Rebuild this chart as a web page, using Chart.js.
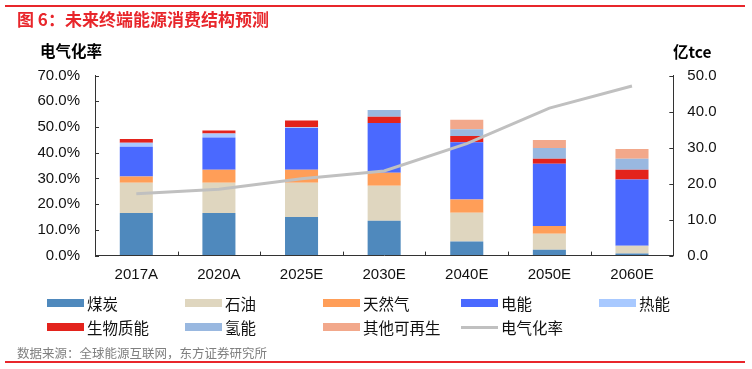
<!DOCTYPE html>
<html>
<head>
<meta charset="utf-8">
<script src="https://cdn.jsdelivr.net/npm/chart.js@4/dist/chart.umd.min.js"></script>
<style>
  html,body{margin:0;padding:0;background:#fff;}
  #wrap{position:relative;width:752px;height:369px;overflow:hidden;font-family:"Noto Sans CJK SC","Liberation Sans",sans-serif;}
  canvas{position:absolute;left:0;top:0;}
  .abs{position:absolute;white-space:nowrap;}
  #title{left:17px;top:8px;font-size:17px;font-weight:bold;color:#e8262b;line-height:22px;}
  .redline{position:absolute;height:1.5px;background:#e8262b;}
  .axt{font-weight:bold;font-size:15.5px;color:#000;line-height:20px;}
  #src{left:17px;top:344px;font-size:12.5px;color:#7f7f7f;line-height:18px;}
  .lg{position:absolute;height:20px;width:135px;line-height:20px;font-size:15.5px;color:#111;white-space:nowrap;}
  .lg .sw{position:absolute;left:0;width:37px;}
  .lg span{position:absolute;left:40px;top:0;white-space:nowrap;}
</style>
</head>
<body>
<div id="wrap">
  <canvas id="c" width="752" height="369"></canvas>
  <div class="redline" style="left:5px;top:5px;width:740px;"></div>
  <div id="title" class="abs">图 6：未来终端能源消费结构预测</div>
  <div class="abs axt" style="left:40px;top:40px;">电气化率</div>
  <div class="abs axt" style="left:673px;top:41px;">亿tce</div>
  <div id="legend"></div>
  <div id="src" class="abs">数据来源：全球能源互联网，东方证券研究所</div>
  <div class="redline" style="left:5px;top:361px;width:740px;"></div>
</div>
<script>
// ---- data ----
const categories = ['2017A','2020A','2025E','2030E','2040E','2050E','2060E'];
const coal     = [11.8, 11.8, 10.7, 9.7, 3.9, 1.6, 0.55];
const oil      = [8.4, 8.4, 9.5, 9.7, 8.0, 4.5, 2.2];
const gas      = [1.75, 3.6, 3.6, 3.6, 3.7, 2.1, 0];
const power    = [8.25, 9.0, 11.6, 13.8, 15.9, 17.3, 18.4];
const heat     = [1.1, 1.1, 0.2, 0, 0, 0, 0];
const biomass  = [1.1, 0.8, 1.9, 1.75, 1.7, 1.4, 2.7];
const hydrogen = [0, 0, 0, 1.85, 1.9, 3.0, 3.05];
const otherRen = [0, 0, 0, 0, 2.6, 2.2, 2.7];
const elecRate = [24.0, 25.8, 29.9, 32.9, 43.5, 57.3, 65.9];
const leftTicks  = [0,10,20,30,40,50,60,70];
const rightTicks = [0,10,20,30,40,50];
const seriesNames = ['煤炭','石油','天然气','电能','热能','生物质能','氢能','其他可再生','电气化率'];

const colors = ['#4f89bd','#dfd6bf','#ff9e58','#4a69ff','#a8c9ff','#e3231c','#99b8e0','#f2a88b','#c0c0c0'];
const barSeries = [coal, oil, gas, power, heat, biomass, hydrogen, otherRen];
const AXIS = '#333';
const TICKFONT = {family:'"Liberation Sans", Arial, sans-serif', size:15};

const datasets = barSeries.map((d,i)=>({
  type:'bar', label:seriesNames[i], data:d, backgroundColor:colors[i],
  borderWidth:0, yAxisID:'y1', stack:'s', order:1,
  barPercentage:0.5, categoryPercentage:0.8
}));
datasets.push({
  type:'line', label:seriesNames[8], data:elecRate, borderColor:colors[8],
  backgroundColor:colors[8], borderWidth:3, pointRadius:0, yAxisID:'y',
  tension:0, order:0, fill:false
});

const innerTicks = {
  id:'innerTicks',
  afterDraw(chart){
    const {ctx, chartArea:a, scales} = chart;
    ctx.save(); ctx.strokeStyle=AXIS; ctx.lineWidth=1; ctx.beginPath();
    scales.y.ticks.forEach((t,i)=>{const y=Math.round(scales.y.getPixelForTick(i))+0.5; ctx.moveTo(a.left,y); ctx.lineTo(a.left+4,y);});
    scales.y1.ticks.forEach((t,i)=>{const y=Math.round(scales.y1.getPixelForTick(i))+0.5; ctx.moveTo(a.right,y); ctx.lineTo(a.right-4,y);});
    for(let i=1;i<categories.length;i++){
      const x=Math.round((scales.x.getPixelForTick(i-1)+scales.x.getPixelForTick(i))/2)+0.5;
      ctx.moveTo(x,a.bottom); ctx.lineTo(x,a.bottom-4);
    }
    ctx.stroke(); ctx.restore();
  }
};

new Chart(document.getElementById('c'), {
  data:{labels:categories, datasets},
  plugins:[innerTicks],
  options:{
    responsive:false, animation:false, devicePixelRatio:1,
    layout:{padding:{top:75.5,left:0,right:0,bottom:0}},
    plugins:{legend:{display:false}, tooltip:{enabled:false}},
    scales:{
      x:{stacked:true, offset:true,
         grid:{display:true, drawOnChartArea:false, drawTicks:false},
         border:{display:true,color:AXIS,width:1},
         ticks:{font:TICKFONT,color:'#111',padding:10,maxRotation:0},
         afterFit(s){ s.height = 369-255.6; }},
      y:{position:'left', min:0, max:70,
         afterBuildTicks(s){ s.ticks = leftTicks.map(v=>({value:v})); },
         grid:{display:true, drawOnChartArea:false, drawTicks:false},
         border:{display:true,color:AXIS,width:1},
         ticks:{font:TICKFONT,color:'#111',padding:15,callback:v=>v.toFixed(1)+'%'},
         afterFit(s){ s.width = 95; }},
      y1:{position:'right', min:0, max:50, stacked:true,
         afterBuildTicks(s){ s.ticks = rightTicks.map(v=>({value:v})); },
         grid:{display:true, drawOnChartArea:false, drawTicks:false},
         border:{display:true,color:AXIS,width:1},
         ticks:{font:TICKFONT,color:'#111',padding:14,callback:v=>v.toFixed(1)},
         afterFit(s){ s.width = 752-673.3; }}
    }
  }
});

// ---- HTML legend built from the series names/colours ----
const lg = document.getElementById('legend');
const colX = [47, 185, 323, 461, 599];
const rowY = [293, 317];
seriesNames.forEach((name,i)=>{
  const r = Math.floor(i/5), c = i%5;
  const d = document.createElement('div');
  d.className='lg';
  d.style.left=colX[c]+'px'; d.style.top=rowY[r]+'px';
  const sw = document.createElement('div'); sw.className='sw';
  const isLine = i===8;
  sw.style.height = isLine ? '3px' : '8px';
  sw.style.top = isLine ? '9px' : '6px';
  sw.style.background = colors[i];
  const t = document.createElement('span'); t.textContent=name;
  d.appendChild(sw); d.appendChild(t); lg.appendChild(d);
});
</script>
</body>
</html>
